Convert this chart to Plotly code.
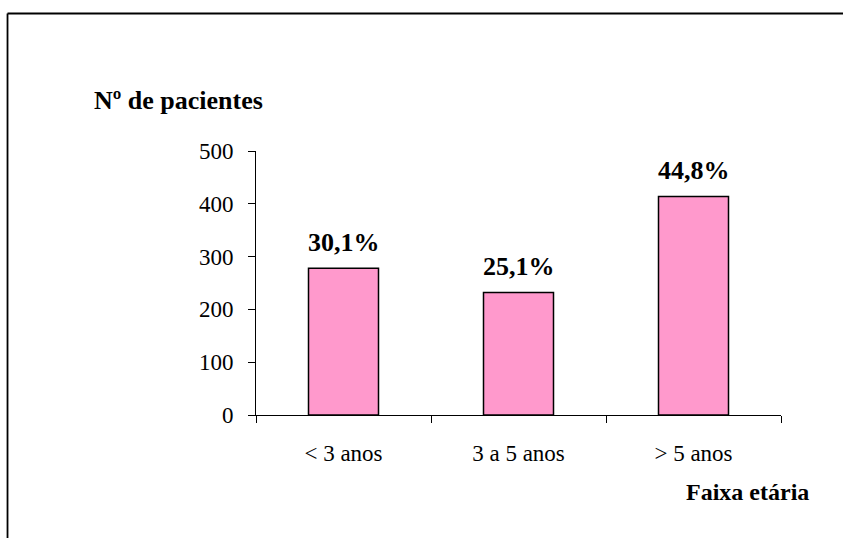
import plotly.graph_objects as go

# Patients per age group
faixas = ["< 3 anos", "3 a 5 anos", "> 5 anos"]
pacientes = [278, 232, 414]
y_ticks = [0, 100, 200, 300, 400, 500]

total = sum(pacientes)
percentuais = [f"{v / total * 100:.1f}".replace(".", ",") + "%" for v in pacientes]

SERIF = "Liberation Serif"

fig = go.Figure(
    go.Bar(
        x=faixas,
        y=pacientes,
        marker=dict(color="#FF99CC", line=dict(color="#000000", width=1.5)),
        hoverinfo="skip",
    )
)

# Percentage labels above each bar
for cat, val, txt in zip(faixas, pacientes, percentuais):
    fig.add_annotation(
        x=cat, y=val, text=f"<b>{txt}</b>", showarrow=False,
        yanchor="middle", yshift=26,
        font=dict(family=SERIF, size=26, color="#000000"),
    )

# Axis titles placed as free text
fig.add_annotation(
    x=-0.1467, y=1.193, xref="paper", yref="paper",
    text="<b>Nº de pacientes</b>", showarrow=False,
    xanchor="center", yanchor="middle",
    font=dict(family=SERIF, size=26, color="#000000"),
)
fig.add_annotation(
    x=0.937, y=-0.2917, xref="paper", yref="paper",
    text="<b>Faixa etária</b>", showarrow=False,
    xanchor="center", yanchor="middle",
    font=dict(family=SERIF, size=24, color="#000000"),
)

# Outer frame lines (top and left)
frame = dict(color="#000000", width=1.8)
fig.add_shape(type="line", xref="paper", yref="paper",
              x0=-0.4733, x1=1.2, y0=1.5208, y1=1.5208, line=frame)
fig.add_shape(type="line", xref="paper", yref="paper",
              x0=-0.4733, x1=-0.4733, y0=1.5208, y1=-0.5, line=frame)

fig.update_layout(
    width=843, height=538,
    margin=dict(l=256, r=62, t=151, b=123),
    paper_bgcolor="#FFFFFF", plot_bgcolor="#FFFFFF",
    bargap=0.6,
    showlegend=False,
    font=dict(family=SERIF, size=23, color="#000000"),
)
fig.update_xaxes(
    type="category", tickson="boundaries",
    ticks="outside", ticklen=7, tickwidth=1, tickcolor="#000000",
    showline=True, linecolor="#000000", linewidth=1,
    showgrid=False, zeroline=False,
    tickfont=dict(family=SERIF, size=23, color="#000000"),
    ticklabelstandoff=17,
)
fig.update_yaxes(
    range=[0, 500], tickvals=y_ticks,
    ticks="outside", ticklen=7, tickwidth=1, tickcolor="#000000",
    showline=True, linecolor="#000000", linewidth=1,
    showgrid=False, zeroline=False,
    tickfont=dict(family=SERIF, size=23, color="#000000"),
    ticklabelstandoff=10,
)

fig.write_html("out.html")
